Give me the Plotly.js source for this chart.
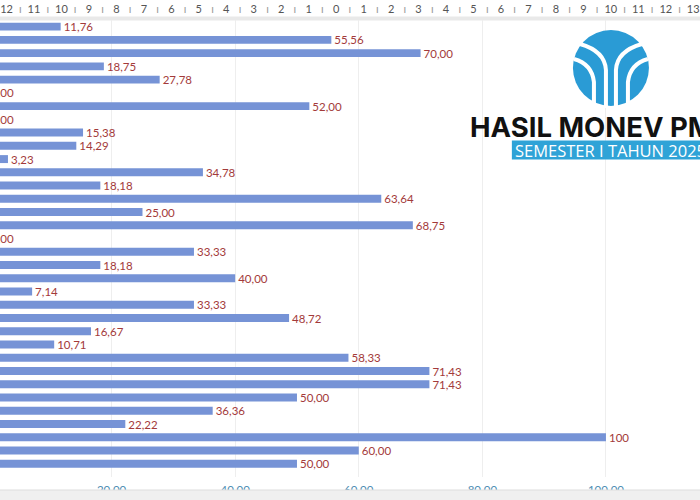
<!DOCTYPE html>
<html>
<head>
<meta charset="utf-8">
<script src="https://cdn.plot.ly/plotly-3.0.1.min.js"></script>
<style>
html,body{margin:0;padding:0;background:#fff;overflow:hidden;width:700px;height:500px;}
#chart{position:absolute;left:-12.5px;top:0;width:712.5px;height:500px;}
</style>
</head>
<body>
<div id="chart"></div>
<script>
// Category names are cut off in the reference (left of the visible area)
var categories = ["B1","B2","B3","B4","B5","B6","B7","B8","B9","B10","B11","B12","B13","B14","B15","B16","B17",
                  "B18","B19","B20","B21","B22","B23","B24","B25","B26","B27","B28","B29","B30","B31","B32","B33","B34"];
var values = [11.76, 55.56, 70.00, 18.75, 27.78, 0.00, 52.00, 0.00, 15.38, 14.29, 3.23, 34.78, 18.18, 63.64,
              25.00, 68.75, 0.00, 33.33, 18.18, 40.00, 7.14, 33.33, 48.72, 16.67, 10.71, 58.33, 71.43, 71.43,
              50.00, 36.36, 22.22, 100, 60.00, 50.00];
var valueTicks = [20, 40, 60, 80, 100];
var rulerLabels = ["12","11","10","9","8","7","6","5","4","3","2","1","0","1","2","3","4","5","6","7","8","9","10","11","12","13"];
var titleText = "HASIL MONEV PM";
var subtitleText = "SEMESTER I TAHUN 2025";

var labels = values.map(function (v) { return v === 100 ? "100" : v.toFixed(2).replace(".", ","); });

var W = 712.5, OFF = 12.5;
var PX = function (px) { return (px + OFF) / W; };
var PY = function (py) { return (477 - py) / 457; };

// ruler tick positions (decoration, pixel space of the overlay axis)
var rulerVals = [], rulerText = [];
rulerLabels.forEach(function (t, i) {
  var p = 6 + i * 27.45 + OFF;
  rulerVals.push(p); rulerText.push(t);
  if (i < rulerLabels.length - 1) {
    rulerVals.push(p + 27.45 * 0.5); rulerText.push('<span style="color:#999">ı</span>');
  }
});

var bars = {
  type: "bar",
  orientation: "h",
  y: categories,
  x: values,
  text: labels,
  textposition: "outside",
  constraintext: "none",
  cliponaxis: false,
  textfont: {family: "Lato, 'Open Sans', sans-serif", size: 11.5, color: "#a33a3a"},
  marker: {color: "#7693d6"},
  width: 0.6,
  hoverinfo: "x+y"
};
var dummy = {type: "scatter", x: [], y: [], xaxis: "x2", showlegend: false, hoverinfo: "skip"};

var logo = {xref: "paper", yref: "paper", xsizemode: "pixel", ysizemode: "pixel",
            xanchor: PX(610), yanchor: PY(68), layer: "above"};
function L(o) { return Object.assign({}, logo, o); }

var layout = {
  width: 712.5, height: 500,
  margin: {l: 0, r: 0, t: 20, b: 23, pad: 0},
  paper_bgcolor: "#ffffff",
  plot_bgcolor: "#ffffff",
  showlegend: false,
  xaxis: {
    range: [0, 115.38],
    tickvals: valueTicks,
    tickformat: ".2f",
    showgrid: true, gridcolor: "#eeeeee", gridwidth: 1,
    zeroline: false, showline: false, ticks: "",
    ticklabelstandoff: 4,
    tickfont: {family: "Lato, 'Open Sans', sans-serif", size: 11.5, color: "#4d8db3"}
  },
  xaxis2: {
    overlaying: "x", side: "top", anchor: "y",
    range: [0, 712.5], tickmode: "array", tickvals: rulerVals, ticktext: rulerText,
    tickangle: 0,
    showgrid: false, zeroline: false, showline: false, ticks: "",
    ticklabelstandoff: 4,
    tickfont: {family: "Lato, 'Open Sans', sans-serif", size: 11, color: "#555555"}
  },
  yaxis: {
    type: "category",
    range: [34.0, -0.5],
    showticklabels: false, showgrid: false, zeroline: false, showline: false, ticks: ""
  },
  shapes: [
    {type: "rect", xref: "paper", yref: "paper", x0: 0, x1: 1, y0: PY(20.5), y1: PY(16.5),
     fillcolor: "#e9e9e9", line: {width: 0}, layer: "below"},
    {type: "rect", xref: "paper", yref: "paper", x0: 0, x1: 1, y0: PY(500), y1: PY(490),
     fillcolor: "#f0f0f0", line: {width: 0}, layer: "above"},
    {type: "line", xref: "paper", yref: "paper", x0: 0, x1: 1, y0: PY(490), y1: PY(490),
     line: {color: "#dddddd", width: 1}, layer: "above"},
    L({type: "circle", x0: -38, x1: 38, y0: -38, y1: 38, fillcolor: "#2a9bd5", line: {width: 0}}),
    L({type: "path", path: "M -5,-40 L -5,-2 Q -6,17 -31,24", line: {color: "#ffffff", width: 4}}),
    L({type: "path", path: "M 5,-40 L 5,-2 Q 6,17 31,24", line: {color: "#ffffff", width: 4}}),
    L({type: "path", path: "M -17,-36 L -17,-14 Q -19,4 -37,9", line: {color: "#ffffff", width: 4}}),
    L({type: "path", path: "M 17,-36 L 17,-14 Q 19,4 37,9", line: {color: "#ffffff", width: 4}}),
    {type: "rect", xref: "paper", yref: "paper", x0: PX(511), x1: PX(705), y0: PY(159.5), y1: PY(140.5),
     fillcolor: "#2fa3d7", line: {width: 0}, layer: "above"}
  ],
  annotations: [
    {xref: "paper", yref: "paper", x: PX(467), y: PY(127), xanchor: "left", yanchor: "middle",
     text: "<b>" + titleText + "</b>", showarrow: false,
     font: {family: "Inter, sans-serif", size: 27.5, color: "#111111", weight: 900}},
    {xref: "paper", yref: "paper", x: PX(512), y: PY(150), xanchor: "left", yanchor: "middle",
     text: subtitleText, showarrow: false,
     font: {family: "'Open Sans', sans-serif", size: 16.5, color: "#ffffff"}}
  ]
};

Plotly.newPlot("chart", [bars, dummy], layout, {displayModeBar: false, staticPlot: true});
</script>
</body>
</html>
